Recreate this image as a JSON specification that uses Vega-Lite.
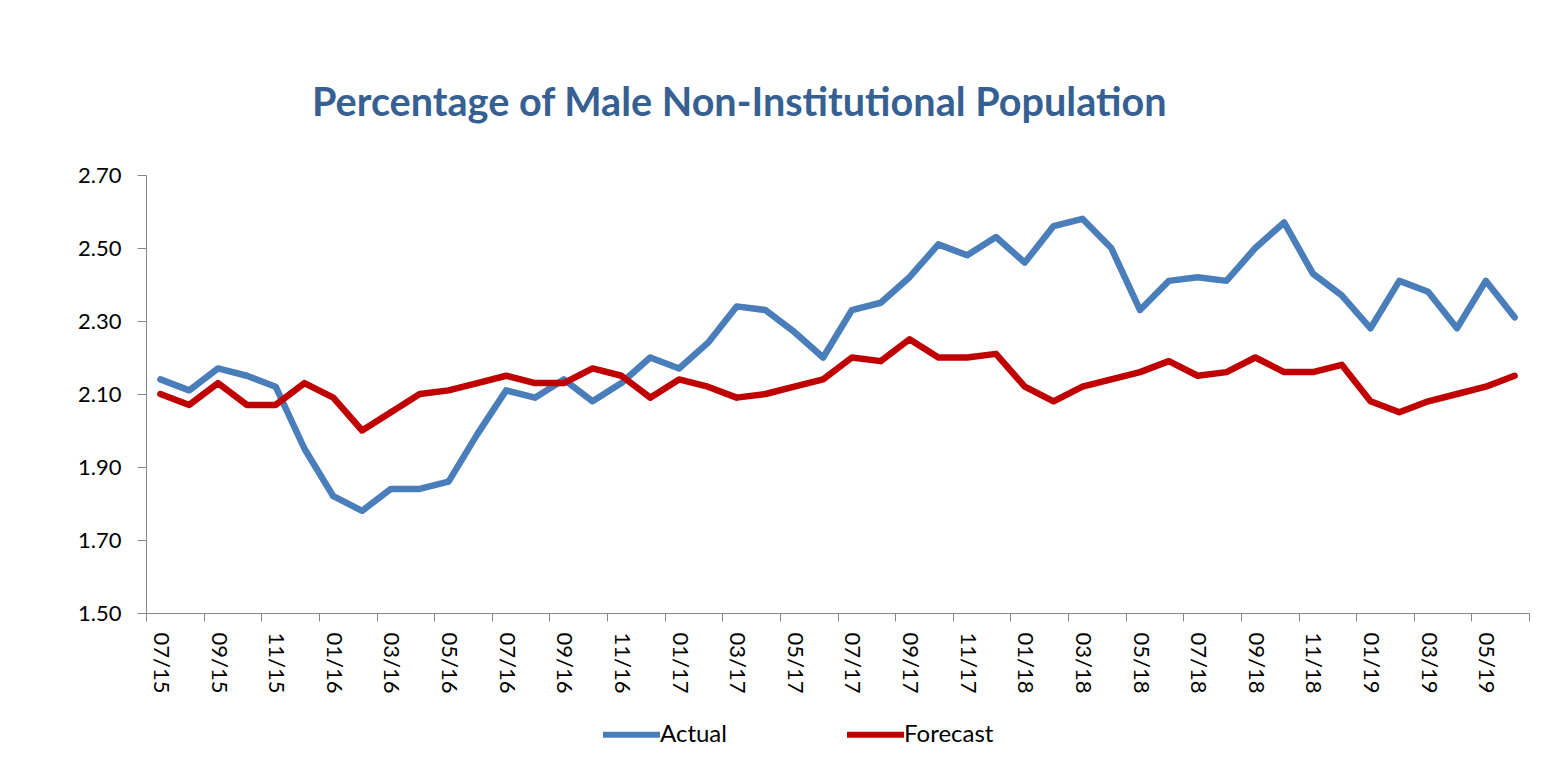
{
  "$schema": "https://vega.github.io/schema/vega-lite/v6.json",
  "autosize": "none",
  "width": 1383,
  "height": 438,
  "padding": {"left": 146, "top": 175, "right": 27, "bottom": 161},
  "background": "white",
  "title": {
    "text": "Percentage of Male Non-Institutional Population",
    "anchor": "start",
    "frame": "group",
    "dx": 166,
    "offset": 8,
    "baseline": "alphabetic",
    "font": "Lato",
    "fontSize": 39.6,
    "fontWeight": "bold",
    "color": "#376092"
  },
  "data": {
    "values": [
      {"month": "07/15", "Actual": 2.14, "Forecast": 2.10},
      {"month": "08/15", "Actual": 2.11, "Forecast": 2.07},
      {"month": "09/15", "Actual": 2.17, "Forecast": 2.13},
      {"month": "10/15", "Actual": 2.15, "Forecast": 2.07},
      {"month": "11/15", "Actual": 2.12, "Forecast": 2.07},
      {"month": "12/15", "Actual": 1.95, "Forecast": 2.13},
      {"month": "01/16", "Actual": 1.82, "Forecast": 2.09},
      {"month": "02/16", "Actual": 1.78, "Forecast": 2.00},
      {"month": "03/16", "Actual": 1.84, "Forecast": 2.05},
      {"month": "04/16", "Actual": 1.84, "Forecast": 2.10},
      {"month": "05/16", "Actual": 1.86, "Forecast": 2.11},
      {"month": "06/16", "Actual": 1.99, "Forecast": 2.13},
      {"month": "07/16", "Actual": 2.11, "Forecast": 2.15},
      {"month": "08/16", "Actual": 2.09, "Forecast": 2.13},
      {"month": "09/16", "Actual": 2.14, "Forecast": 2.13},
      {"month": "10/16", "Actual": 2.08, "Forecast": 2.17},
      {"month": "11/16", "Actual": 2.13, "Forecast": 2.15},
      {"month": "12/16", "Actual": 2.20, "Forecast": 2.09},
      {"month": "01/17", "Actual": 2.17, "Forecast": 2.14},
      {"month": "02/17", "Actual": 2.24, "Forecast": 2.12},
      {"month": "03/17", "Actual": 2.34, "Forecast": 2.09},
      {"month": "04/17", "Actual": 2.33, "Forecast": 2.10},
      {"month": "05/17", "Actual": 2.27, "Forecast": 2.12},
      {"month": "06/17", "Actual": 2.20, "Forecast": 2.14},
      {"month": "07/17", "Actual": 2.33, "Forecast": 2.20},
      {"month": "08/17", "Actual": 2.35, "Forecast": 2.19},
      {"month": "09/17", "Actual": 2.42, "Forecast": 2.25},
      {"month": "10/17", "Actual": 2.51, "Forecast": 2.20},
      {"month": "11/17", "Actual": 2.48, "Forecast": 2.20},
      {"month": "12/17", "Actual": 2.53, "Forecast": 2.21},
      {"month": "01/18", "Actual": 2.46, "Forecast": 2.12},
      {"month": "02/18", "Actual": 2.56, "Forecast": 2.08},
      {"month": "03/18", "Actual": 2.58, "Forecast": 2.12},
      {"month": "04/18", "Actual": 2.50, "Forecast": 2.14},
      {"month": "05/18", "Actual": 2.33, "Forecast": 2.16},
      {"month": "06/18", "Actual": 2.41, "Forecast": 2.19},
      {"month": "07/18", "Actual": 2.42, "Forecast": 2.15},
      {"month": "08/18", "Actual": 2.41, "Forecast": 2.16},
      {"month": "09/18", "Actual": 2.50, "Forecast": 2.20},
      {"month": "10/18", "Actual": 2.57, "Forecast": 2.16},
      {"month": "11/18", "Actual": 2.43, "Forecast": 2.16},
      {"month": "12/18", "Actual": 2.37, "Forecast": 2.18},
      {"month": "01/19", "Actual": 2.28, "Forecast": 2.08},
      {"month": "02/19", "Actual": 2.41, "Forecast": 2.05},
      {"month": "03/19", "Actual": 2.38, "Forecast": 2.08},
      {"month": "04/19", "Actual": 2.28, "Forecast": 2.10},
      {"month": "05/19", "Actual": 2.41, "Forecast": 2.12},
      {"month": "06/19", "Actual": 2.31, "Forecast": 2.15}
    ]
  },
  "transform": [{"fold": ["Actual", "Forecast"], "as": ["series", "value"]}],
  "mark": {"type": "line", "strokeWidth": 6.5, "strokeCap": "round", "strokeJoin": "round"},
  "encoding": {
    "x": {
      "field": "month",
      "type": "ordinal",
      "sort": null,
      "scale": {"type": "band", "paddingInner": 0, "paddingOuter": 0},
      "axis": {
        "title": null,
        "tickBand": "extent",
        "labelAngle": 90,
        "labelAlign": "left",
        "labelBaseline": "middle",
        "labelOverlap": false,
        "labelPadding": 11,
        "labelExpr": "indexof(['07','09','11','01','03','05'], substring(datum.label,0,2)) >= 0 ? datum.label : ''",
        "tickOpacity": {"condition": {"test": "isString(datum.value) && indexof(['07','09','11','01','03','05'], substring(datum.value,0,2)) >= 0", "value": 0}, "value": 1},
        "tickSize": 8,
        "tickColor": "#868686",
        "domainColor": "#868686",
        "labelFont": "Lato",
        "labelFontSize": 22,
        "labelColor": "#000000"
      }
    },
    "y": {
      "field": "value",
      "type": "quantitative",
      "scale": {"domain": [1.5, 2.7], "nice": false, "zero": false},
      "axis": {
        "title": null,
        "values": [1.5, 1.7, 1.9, 2.1, 2.3, 2.5, 2.7],
        "format": ".2f",
        "grid": false,
        "tickSize": 9,
        "tickColor": "#868686",
        "domainColor": "#868686",
        "labelPadding": 16,
        "labelFont": "Lato",
        "labelFontSize": 22,
        "labelColor": "#000000"
      }
    },
    "color": {
      "field": "series",
      "type": "nominal",
      "scale": {"domain": ["Actual", "Forecast"], "range": ["#4A7EBB", "#C00000"]},
      "legend": {
        "title": null,
        "orient": "none",
        "direction": "horizontal",
        "legendX": 454,
        "legendY": 528,
        "padding": 0,
        "symbolType": "stroke",
        "symbolSize": 3249,
        "symbolStrokeWidth": 6,
        "labelOffset": -3,
        "columnPadding": 108,
        "labelFont": "Lato",
        "labelFontSize": 24,
        "labelColor": "#000000"
      }
    }
  },
  "config": {"view": {"stroke": null}}
}
